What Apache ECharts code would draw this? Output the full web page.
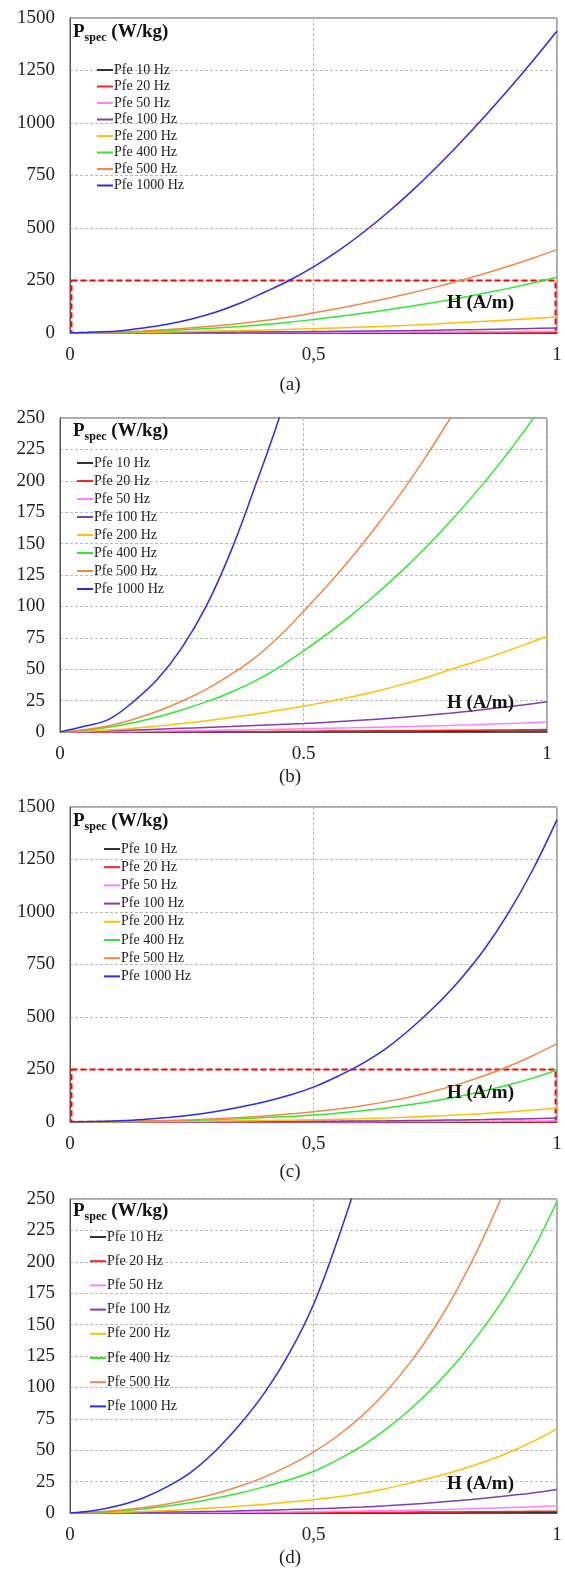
<!DOCTYPE html>
<html>
<head>
<meta charset="utf-8">
<script src="https://cdn.jsdelivr.net/npm/echarts@6/dist/echarts.min.js"></script>
<style>
  html, body { margin: 0; padding: 0; background: #fff; }
  #chart { width: 565px; height: 1569px; }
</style>
</head>
<body>
<div id="chart"></div>
<script>
// H (A/m) sample points
const H = [0, 0.05, 0.1, 0.15, 0.2, 0.25, 0.3, 0.35, 0.4, 0.45, 0.5,
  0.55, 0.6, 0.65, 0.7, 0.75, 0.8, 0.85, 0.9, 0.95, 1];

const names = ["Pfe 10 Hz", "Pfe 20 Hz", "Pfe 50 Hz", "Pfe 100 Hz",
  "Pfe 200 Hz", "Pfe 400 Hz", "Pfe 500 Hz", "Pfe 1000 Hz"];

// first case, panels (a) and (b)
const pfe10A = [0, 0.01, 0.02, 0.04, 0.06, 0.09, 0.12, 0.15, 0.19, 0.23, 0.27, 0.31, 0.36, 0.41, 0.46, 0.52, 0.58, 0.65, 0.72, 0.8, 0.88];
const pfe20A = [0, 0.02, 0.05, 0.09, 0.14, 0.2, 0.27, 0.34, 0.42, 0.51, 0.6, 0.7, 0.8, 0.91, 1.03, 1.16, 1.3, 1.45, 1.6, 1.78, 1.96];
const pfe50A = [0, 0.12, 0.28, 0.48, 0.7, 0.95, 1.2, 1.5, 1.8, 2.15, 2.5, 2.9, 3.3, 3.75, 4.2, 4.7, 5.25, 5.85, 6.5, 7.2, 8];
const pfe100A = [0, 0.4, 0.9, 1.5, 2.2, 2.9, 3.6, 4.3, 5.1, 5.9, 6.7, 7.8, 9, 10.2, 11.5, 13.2, 15, 17, 19.3, 21.5, 24];
const pfe200A = [0, 0.5, 1.5, 3, 4.7, 6.7, 9, 11.5, 14.2, 17.3, 20.7, 24, 28, 32.5, 37.5, 43, 49.5, 55.5, 62, 69, 76];
const pfe400A = [0, 1.3, 3.8, 7.3, 12, 17.5, 24, 31.5, 40.5, 51.5, 64.5, 78.5, 93.5, 110, 127.5, 146.5, 167, 189, 212.5, 238, 265];
const pfe500A = [0, 1.8, 5, 10, 16.5, 24.5, 34, 45.5, 59, 76, 96, 117, 139.5, 164, 190, 218.5, 249, 282, 318, 356, 397];
const pfe1000A = [0, 4.5, 10, 24, 42, 67, 100, 143, 195, 250, 315, 390, 475, 569, 672, 783, 902, 1027, 1158, 1295, 1438];

// second case, panels (c) and (d)
const pfe10B = [0, 0, 0.01, 0.02, 0.03, 0.05, 0.07, 0.09, 0.11, 0.13, 0.16, 0.19, 0.22, 0.26, 0.3, 0.34, 0.39, 0.45, 0.51, 0.58, 0.65];
const pfe20B = [0, 0.01, 0.03, 0.05, 0.08, 0.11, 0.15, 0.19, 0.24, 0.29, 0.35, 0.42, 0.5, 0.58, 0.67, 0.77, 0.88, 1, 1.14, 1.3, 1.48];
const pfe50B = [0, 0.03, 0.08, 0.15, 0.22, 0.32, 0.42, 0.55, 0.7, 0.87, 1.07, 1.3, 1.55, 1.85, 2.2, 2.6, 3.1, 3.7, 4.3, 5, 5.8];
const pfe100B = [0, 0.1, 0.25, 0.45, 0.7, 1, 1.3, 1.7, 2.2, 2.7, 3.3, 4, 4.8, 5.8, 7, 8.3, 9.9, 11.7, 13.8, 16, 18.8];
const pfe200B = [0, 0.2, 0.6, 1.2, 2, 3, 4.2, 5.5, 7, 8.7, 10.6, 12.9, 15.8, 19.6, 24, 28.8, 34.3, 40.6, 48, 56.8, 67];
const pfe400B = [0, 0.5, 1.5, 3.2, 5.5, 8.3, 12, 16, 21, 26.5, 33, 42.5, 53.5, 67, 83, 101.5, 123, 148, 176, 209, 248];
const pfe500B = [0, 0.8, 2.2, 4.3, 7.2, 10.9, 15.6, 21.5, 28.8, 37.7, 48.5, 61.5, 77.5, 97, 120.5, 148.5, 181.5, 220, 264.5, 315.5, 373];
const pfe1000B = [0, 2, 6, 12, 21, 33, 50, 71, 96, 127, 166, 218, 278, 352, 445, 552, 675, 820, 995, 1200, 1440];

const setA = [pfe10A, pfe20A, pfe50A, pfe100A, pfe200A, pfe400A, pfe500A, pfe1000A];
const setB = [pfe10B, pfe20B, pfe50B, pfe100B, pfe200B, pfe400B, pfe500B, pfe1000B];

const colors = ["#333333", "#ff2020", "#ff80ff", "#7f40a8",
  "#ffc000", "#30e830", "#f08848", "#2a2af0"];

const serif = "Liberation Serif";

// layout of the four panels
const panels = [
  { cap: "(a)", data: setA, top: 18, left: 70, h: 315, yMax: 1500, yStep: 250, comma: true,
    legLeft: 97, legTop: 63, legGap: 2.5, titleY: 32, hY: 303, capY: 385, box: true },
  { cap: "(b)", data: setA, top: 418, left: 60, h: 314, yMax: 250, yStep: 25, comma: false,
    legLeft: 77, legTop: 456, legGap: 4, titleY: 431, hY: 703, capY: 777, box: false },
  { cap: "(c)", data: setB, top: 807, left: 70, h: 315, yMax: 1500, yStep: 250, comma: true,
    legLeft: 104, legTop: 842, legGap: 4.2, titleY: 821, hY: 1093, capY: 1172, box: true },
  { cap: "(d)", data: setB, top: 1199, left: 70, h: 314, yMax: 250, yStep: 25, comma: true,
    legLeft: 90, legTop: 1230, legGap: 10.2, titleY: 1211, hY: 1484, capY: 1558, box: false },
];

const grid = [], xAxis = [], yAxis = [], legend = [], series = [], graphic = [];

panels.forEach((p, i) => {
  grid.push({
    left: p.left, top: p.top, width: 487, height: p.h,
    show: true, borderColor: "#555", borderWidth: 1, backgroundColor: "transparent",
  });
  xAxis.push({
    type: "value", gridIndex: i, min: 0, max: 1, interval: 0.5,
    axisLine: { lineStyle: { color: "#555" } },
    axisTick: { show: false },
    axisLabel: {
      fontFamily: serif, fontSize: 19, color: "#222", margin: 13,
      formatter: (v) => (p.comma ? String(v).replace(".", ",") : String(v)),
    },
    splitLine: { show: true, lineStyle: { color: "#bbb", type: [3, 2] } },
  });
  yAxis.push({
    type: "value", gridIndex: i, min: 0, max: p.yMax, interval: p.yStep,
    axisLine: { show: true, lineStyle: { color: "#555" } },
    axisTick: { show: false },
    axisLabel: { fontFamily: serif, fontSize: 19, color: "#222", margin: 15, formatter: (v) => String(v) },
    splitLine: { show: true, lineStyle: { color: "#bbb", type: [3, 2] } },
  });
  legend.push({
    data: names, orient: "vertical", left: p.legLeft, top: p.legTop,
    padding: 0, itemGap: p.legGap, itemWidth: 16, itemHeight: 2, icon: "rect",
    selectedMode: false,
    textStyle: { fontFamily: serif, fontSize: 14, color: "#222", lineHeight: 14, padding: [0, 0, 0, -4] },
  });

  names.forEach((name, k) => {
    const s = {
      name: name, type: "line", xAxisIndex: i, yAxisIndex: i,
      data: H.map((x, j) => [x, p.data[k][j]]),
      smooth: 0.4, showSymbol: false, symbol: "none",
      lineStyle: { width: 1.5, color: colors[k] },
      itemStyle: { color: colors[k] },
      z: 3,
    };
    if (k === 0 && p.box) {
      s.markArea = {
        silent: true,
        itemStyle: { color: "rgba(0,0,0,0)", borderColor: "#ff0000", borderWidth: 2, borderType: [6, 3] },
        data: [[{ coord: [0.003, 250] }, { coord: [0.997, 1] }]],
      };
    }
    series.push(s);
  });

  graphic.push({
    type: "text", x: 73, y: p.titleY, z: 10,
    style: {
      text: "{p|P}{s|spec}{p| (W/kg)}",
      verticalAlign: "middle", textVerticalAlign: "middle",
      rich: {
        p: { fontFamily: serif, fontSize: 19, fontWeight: "bold", lineHeight: 24, fill: "#111", color: "#111" },
        s: { fontFamily: serif, fontSize: 12, fontWeight: "bold", lineHeight: 10, verticalAlign: "bottom", fill: "#111", color: "#111" },
      },
    },
  });
  graphic.push({
    type: "text", x: 447, y: p.hY, z: 10,
    style: {
      text: "H (A/m)", font: "bold 19px " + serif, fill: "#111",
      verticalAlign: "middle", textVerticalAlign: "middle",
    },
  });
  graphic.push({
    type: "text", x: 290, y: p.capY, z: 10,
    style: {
      text: p.cap, font: "19px " + serif, fill: "#222",
      align: "center", textAlign: "center",
      verticalAlign: "middle", textVerticalAlign: "middle",
    },
  });
});

const chart = echarts.init(document.getElementById("chart"));
chart.setOption({
  animation: false,
  backgroundColor: "#fff",
  grid, xAxis, yAxis, legend, series, graphic,
});
</script>
</body>
</html>
